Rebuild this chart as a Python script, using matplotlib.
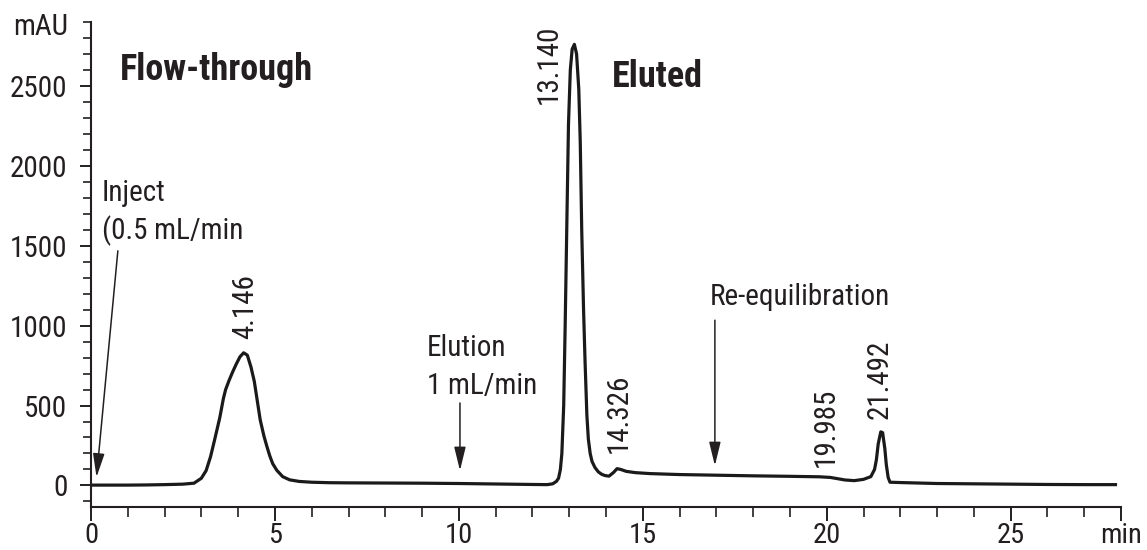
import matplotlib
matplotlib.use("Agg")
import matplotlib.pyplot as plt
from matplotlib.ticker import MultipleLocator

# ---- data ----
time_min = [0.0, 0.5, 1.0, 1.5, 2.0, 2.5, 2.8, 3.0, 3.13, 3.25, 3.36, 3.5, 3.6, 3.66,
            3.75, 3.85, 3.95, 4.05, 4.15, 4.25, 4.35, 4.44, 4.52, 4.6, 4.7, 4.78,
            4.86, 4.94, 5.05, 5.21, 5.4, 5.66, 6.0, 6.5, 7.0, 8.0, 9.0, 10.0, 11.0,
            12.0, 12.4, 12.55, 12.65, 12.71, 12.76, 12.8, 12.85, 12.89, 12.94, 12.98,
            13.03, 13.08, 13.14, 13.2, 13.26, 13.3, 13.34, 13.39, 13.43, 13.48, 13.52,
            13.57, 13.62, 13.7, 13.79, 13.88, 13.97, 14.08, 14.2, 14.3, 14.4, 14.55,
            14.8, 15.2, 16.0, 17.0, 18.0, 19.0, 19.8, 20.1, 20.3, 20.5, 20.75, 21.0,
            21.2, 21.3, 21.35, 21.4, 21.47, 21.52, 21.58, 21.62, 21.67, 21.72, 22.0,
            23.0, 24.0, 25.0, 26.0, 27.0, 27.85]
absorbance_mau = [2, 2, 2, 3, 5, 8, 14, 45, 93, 180, 285, 423, 545, 600,
                  655, 710, 760, 805, 830, 815, 740, 650, 530, 410, 310, 245,
                  185, 136, 95, 55, 35, 25, 20, 17, 16, 15, 14, 12, 9,
                  6, 5, 10, 25, 45, 100, 200, 500, 1000, 1700, 2260,
                  2600, 2730, 2760, 2700, 2480, 2150, 1600, 1100, 780, 440, 290,
                  200, 150, 112, 85, 70, 62, 58, 80, 105, 100, 88,
                  80, 74, 68, 64, 60, 57, 54, 50, 42, 34, 30, 38,
                  55, 100, 160, 260, 335, 330, 230, 130, 50, 20, 18,
                  12, 10, 8, 6, 5, 5]

peak_times = ["4.146", "13.140", "14.326", "19.985", "21.492"]
peak_label_x = [4.2, 12.44, 14.34, 19.97, 21.43]
peak_label_y = [918, 2384, 206, 113, 415]

x_ticks = [0, 5, 10, 15, 20, 25, 28]
x_tick_labels = ["0", "5", "10", "15", "20", "25", "min"]
y_ticks = [0, 500, 1000, 1500, 2000, 2500]
y_tick_labels = ["0", "500", "1000", "1500", "2000", "2500"]

FONT = ["Liberation Sans Narrow", "Roboto Condensed", "DejaVu Sans"]
INK = "#231f20"

plt.rcParams["font.family"] = FONT

fig = plt.figure(figsize=(11.47, 5.5), dpi=100)
ax = fig.add_axes([91 / 1147, 1 - 507 / 550, (1121 - 91) / 1147, (507 - 22) / 550])

ax.plot(time_min, absorbance_mau, color="#1a1a1a", lw=2.3, solid_joinstyle="round")

ax.set_xlim(0, 28)
ax.set_ylim(-135, 2900)

for s in ["top", "right"]:
    ax.spines[s].set_visible(False)
for s in ["left", "bottom"]:
    ax.spines[s].set_linewidth(1.5)
    ax.spines[s].set_color(INK)

ax.set_xticks(x_ticks)
ax.set_xticklabels(x_tick_labels)
ax.set_yticks(y_ticks)
ax.set_yticklabels(y_tick_labels)
ax.xaxis.set_minor_locator(MultipleLocator(1))
ax.yaxis.set_minor_locator(MultipleLocator(100))

ax.tick_params(axis="x", which="major", length=10, width=1.4, pad=1,
               labelsize=20.5, colors=INK)
ax.tick_params(axis="x", which="minor", length=7, width=1.2, colors=INK)
ax.tick_params(axis="y", which="major", length=8, width=1.4, pad=9,
               labelsize=21, colors=INK)
ax.tick_params(axis="y", which="minor", length=5.5, width=1.2, colors=INK)

# unit on y axis
ax.text(-0.022, 2870, "mAU", transform=ax.get_yaxis_transform(), ha="right",
        va="center", fontsize=21, color=INK)

# headings
ax.text(0.79, 2539, "Flow-through", fontsize=26, fontweight="bold", color=INK,
        ha="left", va="baseline")
ax.text(14.15, 2495, "Eluted", fontsize=26, fontweight="bold", color=INK,
        ha="left", va="baseline")

# peak labels
for lab, px, py in zip(peak_times, peak_label_x, peak_label_y):
    ax.text(px, py, lab, rotation=90, ha="center", va="bottom", fontsize=21,
            color=INK)

arrow = dict(arrowstyle="-|>,head_length=0.9,head_width=0.22", lw=1.1,
             color=INK, mutation_scale=16, shrinkA=0, shrinkB=0)

# annotations
ax.text(0.3, 1828, "Inject", fontsize=21, color=INK, ha="left", va="center")
ax.text(0.3, 1593, "(0.5 mL/min", fontsize=21, color=INK, ha="left", va="center")
ax.annotate("", xy=(0.15, 52), xytext=(0.73, 1468), arrowprops=arrow)

ax.text(9.13, 860, "Elution", fontsize=21, color=INK, ha="left", va="center")
ax.text(9.13, 625, "1 mL/min", fontsize=21, color=INK, ha="left", va="center")
ax.annotate("", xy=(10.03, 93), xytext=(10.03, 516), arrowprops=arrow)

ax.text(16.83, 1176, "Re-equilibration", fontsize=21, color=INK, ha="left",
        va="center")
ax.annotate("", xy=(16.96, 124), xytext=(16.96, 1034), arrowprops=arrow)

fig.savefig("out.png", dpi=100)
